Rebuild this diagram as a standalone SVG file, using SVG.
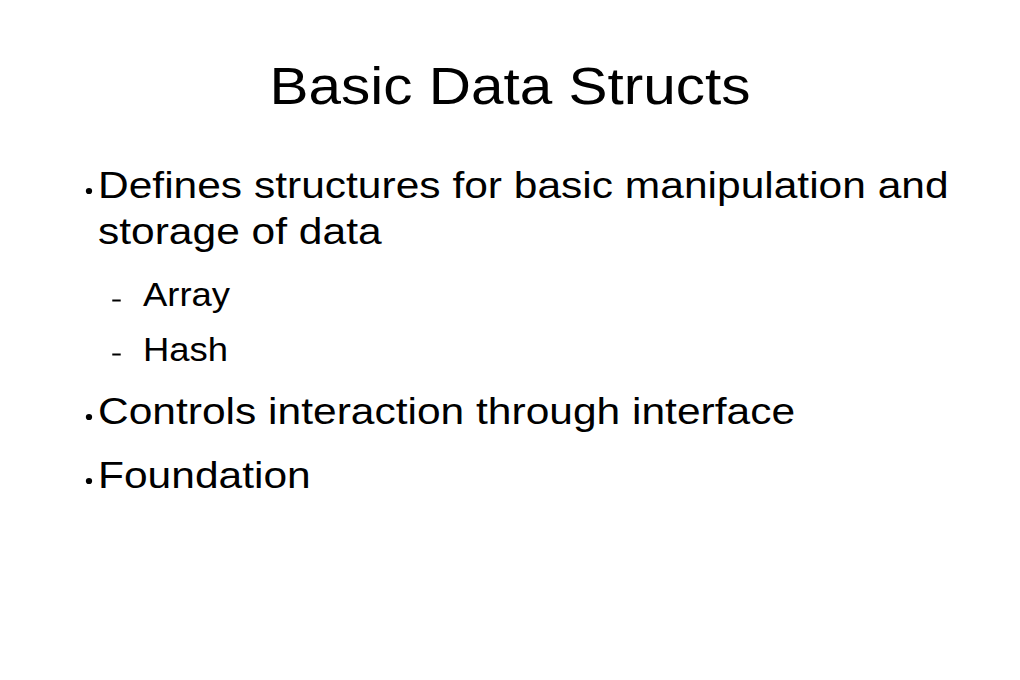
<svg xmlns="http://www.w3.org/2000/svg" width="1020" height="680" viewBox="0 0 1020 680">
<style>
text { font-family: "Liberation Sans", Arial, sans-serif; fill: #000; }
.title { font-size: 52px; }
.l1 { font-size: 37.8px; }
.l2 { font-size: 32.4px; }
</style>
<rect width="1020" height="680" fill="#fff"/>
<g transform="scale(1.125,1)">
<g id="title"><text class="title" x="453.3" y="104" text-anchor="middle">Basic Data Structs</text></g>
<g id="bullets">
<ellipse cx="79.1" cy="191" rx="2.8" ry="3.1"/>
<text class="l1" x="87.1" y="198">Defines structures for basic manipulation and</text>
<text class="l1" x="87.1" y="244">storage of data</text>
<rect x="99.8" y="299.5" width="7.5" height="2"/>
<text class="l2" x="127.1" y="306">Array</text>
<rect x="99.8" y="353.5" width="7.5" height="2"/>
<text class="l2" x="127.1" y="361">Hash</text>
<ellipse cx="79.1" cy="417" rx="2.8" ry="3.1"/>
<text class="l1" x="87.1" y="424">Controls interaction through interface</text>
<ellipse cx="79.1" cy="481" rx="2.8" ry="3.1"/>
<text class="l1" x="87.1" y="488">Foundation</text>
</g>
</g>
</svg>
